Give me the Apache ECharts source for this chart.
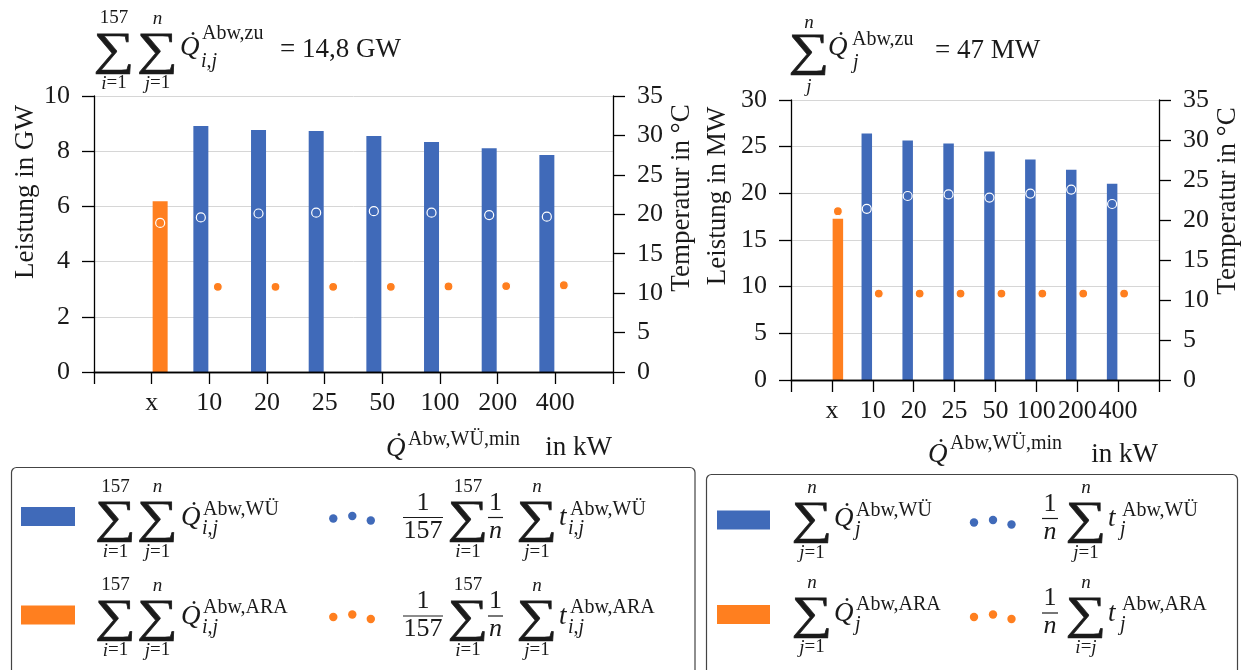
<!DOCTYPE html>
<html>
<head>
<meta charset="utf-8">
<script src="https://cdn.jsdelivr.net/npm/echarts@6/dist/echarts.min.js"></script>
<style>
  html, body { margin: 0; padding: 0; background: #fff; }
  #chart { width: 1245px; height: 670px; }
</style>
</head>
<body>
<div id="chart"></div>
<script>
// Minimum heat-exchanger capacity classes in kW ("x" = everything goes to the treatment plant).
// The empty first/last entries are the axis end slots.
const categories = ['', 'x', '10', '20', '25', '50', '100', '200', '400', ''];

// Left panel: all 157 municipalities, power in GW, temperature in °C
const gwExchangerPower = [null, null, 8.91, 8.77, 8.73, 8.55, 8.33, 8.11, 7.86, null];
const gwPlantPower     = [null, 6.19, null, null, null, null, null, null, null, null];
const gwExchangerTemp  = [null, null, 19.6, 20.1, 20.2, 20.4, 20.2, 19.9, 19.7, null];
const gwPlantTemp      = [null, 18.9, 10.8, 10.8, 10.8, 10.8, 10.85, 10.9, 11.0, null];

// Right panel: one municipality, power in MW, temperature in °C
const mwExchangerPower = [null, null, 26.41, 25.66, 25.34, 24.48, 23.62, 22.54, 21.04, null];
const mwPlantPower     = [null, 17.28, null, null, null, null, null, null, null, null];
const mwExchangerTemp  = [null, null, 21.4, 23.0, 23.2, 22.8, 23.3, 23.8, 22.0, null];
const mwPlantTemp      = [null, 21.1, 10.8, 10.8, 10.8, 10.8, 10.8, 10.8, 10.8, null];

// Axis ranges
const gwAxis   = { min: 0, max: 10, interval: 2 };
const mwAxis   = { min: 0, max: 30, interval: 5 };
const tempAxis = { min: 0, max: 35, interval: 5 };

const BLUE = '#406ab9';
const ORANGE = '#ff7f1f';
const INK = '#1a1a1a';
const SERIF = '"Liberation Serif", "DejaVu Serif", serif';
const TICK_FONT = 26;

const chart = echarts.init(document.getElementById('chart'), null, { renderer: 'canvas' });

function bottomAxis(gridIndex) {
  return {
    type: 'category', gridIndex, data: categories, boundaryGap: false, position: 'bottom', z: 5,
    axisLine: { lineStyle: { color: '#000', width: 1.3 } },
    axisTick: { show: true, inside: false, length: 12, interval: 0, lineStyle: { color: '#000', width: 1.3 } },
    axisLabel: { interval: 0, margin: 18, color: INK, fontFamily: SERIF, fontSize: TICK_FONT },
    splitLine: { show: false }
  };
}
function topAxis(gridIndex) {
  return {
    type: 'category', gridIndex, data: categories, boundaryGap: false, position: 'top', z: 5,
    axisLine: { lineStyle: { color: '#000', width: 1.3 } },
    axisTick: { show: false }, axisLabel: { show: false }, splitLine: { show: false }
  };
}
function valueAxis(gridIndex, range, side, grid) {
  return {
    type: 'value', gridIndex, position: side, min: range.min, max: range.max, interval: range.interval,
    axisLine: { show: true, lineStyle: { color: '#000', width: 1.3 } },
    axisTick: { show: true, inside: false, length: 12, lineStyle: { color: '#000', width: 1.3 } },
    axisLabel: { margin: 24, color: INK, fontFamily: SERIF, fontSize: TICK_FONT },
    splitLine: { show: grid, lineStyle: { color: '#d6d6d6', width: 1 } }
  };
}
function bars(xi, yi, data, color, width, gap) {
  return { type: 'bar', xAxisIndex: xi, yAxisIndex: yi, data, barWidth: width, barGap: gap,
           itemStyle: { color }, z: 2, silent: true };
}
function dots(xi, yi, data, color, shift) {
  return { type: 'scatter', xAxisIndex: xi, yAxisIndex: yi, data, symbol: 'circle', symbolSize: 9,
           symbolOffset: [shift, 0], itemStyle: { color, borderColor: '#fff', borderWidth: 1.2, opacity: 1 },
           z: 4, silent: true };
}

// ---- math-style text helpers ----
function m(x, y, text, size, align, extra) {
  const el = {
    type: 'text', x, y, silent: true, z: 10,
    style: {
      text, fill: INK, fontFamily: SERIF, fontSize: size, align: align || 'left', verticalAlign: 'middle',
      rich: { i: { fontStyle: 'italic', fontFamily: SERIF, fontSize: size, fill: INK } }
    }
  };
  return Object.assign(el, extra || {});
}
const SIG = 44, LIM = 19, MAIN = 27, SUP = 20;
function sigma(cx, cy, upper, lower, up, lo) {
  const s = m(cx, cy + 1, '\u2211', SIG, 'center', { scaleX: 1.3, scaleY: 1.05 });
  s.style.stroke = INK;
  s.style.lineWidth = 0.6;
  return [
    s,
    m(cx, cy - (up || 32), upper, LIM, 'center'),
    m(cx, cy + (lo || 33), lower, LIM, 'center')
  ];
}
function qdot(x, cy) {
  return [m(x, cy, '{i|Q}', MAIN), m(x + 13, cy - 5, '\u02D9', MAIN, 'center')];
}
function frac(cx, cy, num, den, halfWidth) {
  return [
    m(cx, cy - 16, num, 26, 'center'),
    { type: 'line', silent: true, z: 10, shape: { x1: cx - halfWidth, y1: cy - 1.5, x2: cx + halfWidth, y2: cy - 1.5 },
      style: { stroke: INK, lineWidth: 1.2 } },
    m(cx, cy + 12, den, 26, 'center')
  ];
}
function swatch(x, y, w, color) {
  return { type: 'rect', silent: true, z: 10, shape: { x, y, width: w, height: 19 }, style: { fill: color } };
}
function threeDots(x0, cy, color) {
  const pts = [[0, -0.5], [19, -3], [37.5, 1.5]];
  return pts.map(p => ({ type: 'circle', silent: true, z: 10, shape: { cx: x0 + p[0], cy: cy + p[1], r: 4.2 },
                         style: { fill: color } }));
}

const g = [];

// Titles above both panels
g.push(...sigma(114, 50.5, '157', '{i|i}=1'), ...sigma(157.5, 50.5, '{i|n}', '{i|j}=1'));
g.push(...qdot(180, 48), m(202, 33.5, 'Abw,zu', SUP), m(201, 61.5, '{i|i},{i|j}', SUP), m(280, 50, '= 14,8 GW', MAIN));

g.push(...sigma(809, 51.5, '{i|n}', '{i|j}', 29, 35));
g.push(...qdot(828, 48), m(852, 40, 'Abw,zu', SUP), m(853, 63, '{i|j}', SUP), m(935, 51, '= 47 MW', MAIN));

// Axis titles
g.push(m(26, 192, 'Leistung in GW', MAIN, 'center', { rotation: Math.PI / 2 }));
g.push(m(682, 198, 'Temperatur in \u00B0C', MAIN, 'center', { rotation: Math.PI / 2 }));
g.push(m(718, 196, 'Leistung in MW', MAIN, 'center', { rotation: Math.PI / 2 }));
g.push(m(1228, 201, 'Temperatur in \u00B0C', MAIN, 'center', { rotation: Math.PI / 2 }));

g.push(...qdot(386, 449), m(408, 440, 'Abw,W\u00DC,min', SUP), m(612, 448, 'in kW', MAIN, 'right'));
g.push(...qdot(928, 455), m(950, 444, 'Abw,W\u00DC,min', SUP), m(1158, 455, 'in kW', MAIN, 'right'));

// Legend, left panel
g.push({ type: 'rect', silent: true, z: 9, shape: { x: 11.5, y: 467.5, width: 683.5, height: 240, r: 5 },
         style: { fill: 'none', stroke: '#444', lineWidth: 1.2 } });
[['W\u00DC', BLUE], ['ARA', ORANGE]].forEach((row, r) => {
  const cy = 519 + r * 98.5;
  g.push(swatch(21, cy - 12, 54, row[1]));
  g.push(...sigma(115.5, cy, '157', '{i|i}=1'), ...sigma(157.5, cy, '{i|n}', '{i|j}=1'));
  g.push(...qdot(181, cy - 1), m(203, cy - 9.5, 'Abw,' + row[0], SUP), m(202, cy + 10, '{i|i},{i|j}', SUP));
  g.push(...threeDots(333.3, cy, row[1]));
  g.push(...frac(423, cy, '1', '157', 20));
  g.push(...sigma(468, cy, '157', '{i|i}=1'));
  g.push(...frac(495.5, cy, '1', '{i|n}', 7.5));
  g.push(...sigma(537, cy, '{i|n}', '{i|j}=1'));
  g.push(m(559, cy - 1, '{i|t}', MAIN), m(570, cy - 9.5, 'Abw,' + row[0], SUP), m(568, cy + 10, '{i|i},{i|j}', SUP));
});

// Legend, right panel
g.push({ type: 'rect', silent: true, z: 9, shape: { x: 706.5, y: 474.5, width: 531, height: 240, r: 5 },
         style: { fill: 'none', stroke: '#444', lineWidth: 1.2 } });
[['W\u00DC', BLUE, '{i|j}=1'], ['ARA', ORANGE, '{i|i}={i|j}']].forEach((row, r) => {
  const cy = 520 + r * 94.5;
  g.push(swatch(717, cy - 9.5, 53, row[1]));
  g.push(...sigma(812, cy, '{i|n}', '{i|j}=1'));
  g.push(...qdot(834, cy - 1), m(856, cy - 9.5, 'Abw,' + row[0], SUP), m(855, cy + 10, '{i|j}', SUP));
  g.push(...threeDots(974, cy + 3, row[1]));
  g.push(...frac(1050, cy, '1', '{i|n}', 8));
  g.push(...sigma(1086, cy, '{i|n}', row[2]));
  g.push(m(1108, cy - 1, '{i|t}', MAIN), m(1122, cy - 9.5, 'Abw,' + row[0], SUP), m(1120, cy + 10, '{i|j}', SUP));
});

chart.setOption({
  animation: false,
  backgroundColor: '#fff',
  grid: [
    { left: 94, top: 96, width: 519, height: 276, containLabel: false },
    { left: 791, top: 100, width: 368, height: 280, containLabel: false }
  ],
  xAxis: [bottomAxis(0), topAxis(0), bottomAxis(1), topAxis(1)],
  yAxis: [
    valueAxis(0, gwAxis, 'left', true),
    valueAxis(0, tempAxis, 'right', false),
    valueAxis(1, mwAxis, 'left', true),
    valueAxis(1, tempAxis, 'right', false)
  ],
  series: [
    bars(0, 0, gwExchangerPower, BLUE, 15, '13%'),
    bars(0, 0, gwPlantPower, ORANGE, 15, '13%'),
    dots(0, 1, gwExchangerTemp, BLUE, -8.5),
    dots(0, 1, gwPlantTemp, ORANGE, 8.5),
    bars(2, 2, mwExchangerPower, BLUE, 10.5, '14%'),
    bars(2, 2, mwPlantPower, ORANGE, 10.5, '14%'),
    dots(2, 3, mwExchangerTemp, BLUE, -6),
    dots(2, 3, mwPlantTemp, ORANGE, 6)
  ],
  graphic: g
});
</script>
</body>
</html>
